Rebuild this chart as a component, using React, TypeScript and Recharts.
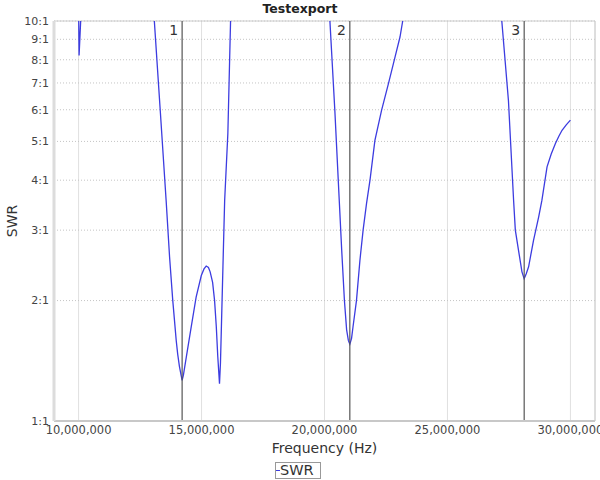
import React from 'react';
import { LineChart, Line, XAxis, YAxis, CartesianGrid, ReferenceLine, Label, Legend } from 'recharts';

// Frequency in MHz, SWR values (values above 10 run off the top of the plot)
const frequencyMHz = [
  10.0, 10.02, 10.13, 11.5, 12.9, 13.08, 13.32, 13.56, 13.7, 13.83, 13.97, 14.03, 14.1, 14.17, 14.21, 14.26,
  14.38, 14.58, 14.78, 14.99, 15.1, 15.19, 15.28, 15.35, 15.45, 15.53, 15.6, 15.66, 15.73, 15.77, 15.8, 15.87,
  15.94, 16.07, 16.18, 16.35, 18.0, 20.05, 20.22, 20.42, 20.6, 20.7, 20.81, 20.9, 20.97, 21.03, 21.1, 21.16,
  21.3, 21.44, 21.57, 21.71, 21.85, 22.05, 22.32, 22.6, 22.87, 23.07, 23.18, 23.35, 25.0, 27.05, 27.21, 27.48,
  27.69, 27.76, 27.89, 28.03, 28.12, 28.2, 28.3, 28.5, 28.71, 28.84, 29.05, 29.22, 29.39, 29.53, 29.66, 29.83, 30.0,
];
const swrValues = [
  10.8, 8.2, 11.5, 25, 12.5, 10, 5.98, 3.56, 2.57, 2.0, 1.59, 1.47, 1.37, 1.3, 1.264, 1.3,
  1.445, 1.72, 2.04, 2.31, 2.4, 2.44, 2.42, 2.36, 2.22, 2.0, 1.72, 1.45, 1.24, 1.4, 1.65, 2.43,
  3.56, 5.23, 10, 14, 30, 13, 10, 5.98, 3.56, 2.67, 2.0, 1.69, 1.59, 1.555, 1.61, 1.72,
  2.0, 2.52, 3.0, 3.5, 4.0, 5.03, 5.98, 6.97, 8.13, 9.12, 10, 11.5, 30, 12.5, 10, 6.33,
  3.56, 3.0, 2.67, 2.36, 2.27, 2.33, 2.43, 2.83, 3.24, 3.56, 4.32, 4.65, 4.94, 5.15, 5.33, 5.5, 5.65,
];

const markerFreqsHz = [14210000, 21030000, 28120000];
const markerNames = ['1', '2', '3'];
const xTicks = [10000000, 15000000, 20000000, 25000000, 30000000];
const yTicks = [1, 2, 3, 4, 5, 6, 7, 8, 9, 10];
const xDomain = [9000000, 31000000];
const yDomain = [1, 10];

const data = frequencyMHz.map((f, i) => ({ freq: f * 1000000, swr: swrValues[i] }));

const FONT = '"DejaVu Sans", sans-serif';
const LINE_COLOR = '#3c3ce0';

const LegendBox = () => (
  <div style={{ display: 'flex', justifyContent: 'center', height: 18 }}>
    <div
      style={{
        boxSizing: 'border-box',
        width: 46,
        height: 17,
        border: '1px solid #999',
        display: 'flex',
        alignItems: 'center',
        fontFamily: FONT,
        fontSize: 14.5,
        color: '#333',
        marginLeft: 1,
      }}
    >
      <span style={{ display: 'inline-block', width: 4, height: 1.5, background: LINE_COLOR }} />
      <span style={{ lineHeight: '15px' }}>SWR</span>
    </div>
  </div>
);

export default function App() {
  return (
    <div style={{ position: 'absolute', left: 0, top: 0, width: 600, height: 480, background: '#fff', fontFamily: FONT }}>
      <div
        style={{
          position: 'absolute',
          left: 0,
          top: 0,
          width: 600,
          textAlign: 'center',
          fontSize: 12.5,
          fontWeight: 'bold',
          lineHeight: '17px',
          color: '#222',
        }}
      >
        Testexport
      </div>
      <LineChart width={600} height={480} data={data} margin={{ top: 21, right: 5, left: 0, bottom: 0 }}>
        <CartesianGrid horizontal={false} vertical={true} stroke="#e0e0e0" />
        <CartesianGrid horizontal={true} vertical={false} stroke="#c4c4c4" strokeDasharray="1 2" />
        <XAxis
          dataKey="freq"
          type="number"
          domain={xDomain}
          ticks={xTicks}
          interval={0}
          allowDataOverflow
          tickFormatter={(v: number) => v.toLocaleString('en-US')}
          tickLine={false}
          tickSize={0}
          tickMargin={5}
          height={41}
          axisLine={{ stroke: '#c8c8c8', strokeWidth: 2 }}
          tick={{ fontSize: 11.5, fill: '#444', fontFamily: FONT }}
        >
          <Label value="Frequency (Hz)" position="insideTop" offset={22} style={{ fontSize: 14, fill: '#333', fontFamily: FONT }} />
        </XAxis>
        <YAxis
          type="number"
          scale="log"
          domain={yDomain}
          ticks={yTicks}
          interval={0}
          allowDataOverflow
          tickFormatter={(v: number) => `${v}:1`}
          tickLine={false}
          tickSize={0}
          tickMargin={5}
          width={54}
          axisLine={{ stroke: '#dcdcdc', strokeWidth: 3 }}
          tick={{ fontSize: 11, fill: '#444', fontFamily: FONT }}
        >
          <Label value="SWR" angle={-90} position="insideLeft" offset={12} style={{ fontSize: 14, fill: '#333', fontFamily: FONT, textAnchor: 'middle' }} />
        </YAxis>
        <ReferenceLine y={10} stroke="#cccccc" />
        <ReferenceLine x={xDomain[1]} stroke="#cccccc" />
        <Legend verticalAlign="bottom" height={18} content={() => <LegendBox />} />
        <Line
          type="linear"
          dataKey="swr"
          stroke={LINE_COLOR}
          strokeWidth={1.3}
          dot={false}
          activeDot={false}
          isAnimationActive={false}
        />
        {markerFreqsHz.map((f, i) => (
          <ReferenceLine
            key={markerNames[i]}
            x={f}
            stroke="#555"
            strokeWidth={1.2}
            label={{ value: markerNames[i], position: 'insideTopRight', offset: 4, fontSize: 14, fill: '#333', fontFamily: FONT }}
          />
        ))}
      </LineChart>
    </div>
  );
}
